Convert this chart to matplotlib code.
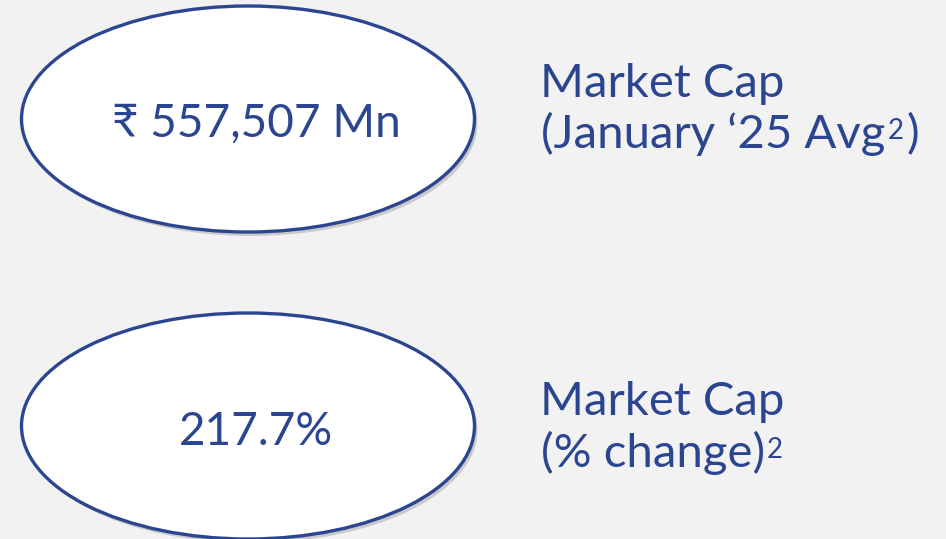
import matplotlib
matplotlib.use("Agg")
import matplotlib.pyplot as plt
from matplotlib.patches import Ellipse

values = ["₹ 557,507 Mn", "217.7%"]
label_line1 = ["Market Cap", "Market Cap"]
label_line2 = ["(January ‘25 Avg", "(% change)"]
label_sup = ["2", "2"]
label_tail = [")", ""]

BG = "#F2F2F2"
BLUE = "#2B4590"
FONT = ["Lato", "Noto Sans", "DejaVu Sans"]

fig = plt.figure(figsize=(9.46, 5.39), dpi=100, facecolor=BG)
ax = fig.add_axes([0, 0, 1, 1])
ax.set_xlim(0, 946)
ax.set_ylim(539, 0)
ax.axis("off")
ax.set_facecolor(BG)

centers_y = [119, 426]
value_base = [137, 445]
lab_base1 = [97, 415]
lab_base2 = [148, 467]

renderer = fig.canvas.get_renderer()
inv = ax.transData.inverted()


def right_edge(t):
    bb = t.get_window_extent(renderer=renderer)
    return inv.transform((bb.x1, bb.y0))[0]


for i in range(len(values)):
    cy = centers_y[i]
    shadow = Ellipse((251, cy + 4), 453, 226, facecolor="#9a9a9a", edgecolor="none", alpha=0.45)
    ax.add_patch(shadow)
    e = Ellipse((248, cy), 453, 226, facecolor="white", edgecolor=BLUE, linewidth=2.4)
    ax.add_patch(e)
    ax.text(256, value_base[i], values[i], ha="center", va="baseline", color=BLUE,
            fontsize=33, family=FONT)
    ax.text(540, lab_base1[i], label_line1[i], ha="left", va="baseline", color=BLUE,
            fontsize=34, family=FONT)
    t2 = ax.text(541, lab_base2[i], label_line2[i], ha="left", va="baseline", color=BLUE,
                 fontsize=34, family=FONT)
    x = right_edge(t2) + 2
    ts = ax.text(x, lab_base2[i] - 9, label_sup[i], ha="left", va="baseline", color=BLUE,
                 fontsize=20, family=FONT)
    if label_tail[i]:
        x = right_edge(ts) + 3
        ax.text(x, lab_base2[i], label_tail[i], ha="left", va="baseline", color=BLUE,
                fontsize=34, family=FONT)

fig.savefig("out.png", dpi=100, facecolor=BG)
